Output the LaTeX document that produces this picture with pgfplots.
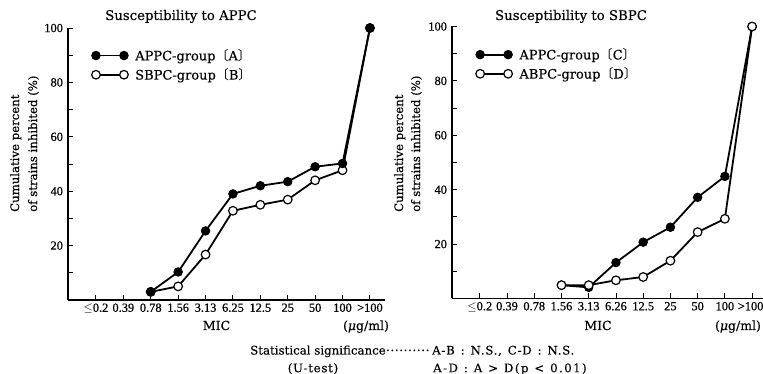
\documentclass[border=0pt]{standalone}
\usepackage{pgfplots}
\pgfplotsset{compat=1.18}
\usepackage{fontspec}
\setmainfont{DejaVu Serif}[FakeBold=0.3]
\newfontfamily\tickfont{Liberation Serif}[FakeBold=0.6]
\newfontfamily\cjk{Noto Sans CJK JP}
\newcommand{\br}[1]{{\cjk 〔}#1{\cjk 〕}}
\pgfplotsset{
  mic/.style={
    scale only axis, height=272pt, xmin=-1.02, ymin=0, ymax=100,
    axis lines=left, axis line style={-, line width=1.4pt},
    xtick={0,...,10},
    ytick={20,40,60,80,100}, minor ytick={10,30,50,70,90},
    tick align=inside, major tick length=5pt, minor tick length=5pt,
    tick style={black, line width=0.9pt},
    minor tick style={black, line width=0.9pt},
    tick label style={font=\tickfont\fontsize{12.4}{14}\selectfont},
    /pgf/number format/assume math mode=true,
    yticklabel style={xshift=-1.5pt},
    clip=false,
    legend style={draw=none, fill=none, inner sep=0pt, row sep=2.5pt,
      font=\fontsize{13}{15}\selectfont, cells={anchor=west},
      /tikz/every odd column/.append style={column sep=5pt}},
    legend cell align=left,
    legend image code/.code={\draw[##1, mark repeat=1, mark phase=1] plot coordinates {(0pt,0pt) (28pt,0pt)};},
  },
  filled/.style={black, line width=1.8pt, mark=*, mark size=4.3pt,
    mark options={solid, fill=black, draw=black, line width=0.8pt}},
  open/.style={black, line width=1.8pt, mark=*, mark size=4.3pt,
    mark options={solid, fill=white, draw=black, line width=1.2pt}},
}
\begin{document}
\begin{tikzpicture}
\path[use as bounding box] (0pt,0pt) rectangle (763pt,374pt);

% ---------- left panel ----------
\begin{axis}[mic, at={(68pt,74pt)}, anchor=south west, width=317pt, xmax=10.55,
  xticklabels={$\leq$0.2,0.39,0.78,1.56,3.13,6.25,12.5,25,50,100,{>100}},
  reverse legend,
  legend style={at={(0.074,0.93)}, anchor=north west}]
\addplot[open] coordinates {(2,3) (3,5) (4,16.7) (5,32.8) (6,35) (7,36.9) (8,44) (9,47.7) (10,100)};
\addlegendentry{SBPC-group\br{B}}
\addplot[filled] coordinates {(2,3) (3,10.3) (4,25.4) (5,39) (6,42) (7,43.5) (8,49) (9,50.2) (10,100)};
\addlegendentry{APPC-group\br{A}}
\end{axis}

% ---------- right panel ----------
\begin{axis}[mic, at={(452pt,75.5pt)}, anchor=south west, width=311pt, xmax=10.4,
  xticklabels={$\leq$0.2,0.39,0.78,1.56,3.13,6.26,12.5,25,50,100,{>100\kern3pt}},
  legend style={at={(0.076,0.928)}, anchor=north west}]
\addplot[filled] coordinates {(3,4.9) (4,4.1) (5,13.2) (6,20.7) (7,26.2) (8,37.2) (9,44.9) (10,100)};
\addlegendentry{APPC-group\br{C}}
\addplot[open] coordinates {(3,4.9) (4,4.9) (5,6.7) (6,7.9) (7,13.9) (8,24.4) (9,29.3) (10,100)};
\addlegendentry{ABPC-group\br{D}}
\end{axis}

% titles
\node[anchor=base, font=\fontsize{13.3}{15}\selectfont] at (181pt,354pt) {Susceptibility to APPC};
\node[anchor=base, font=\fontsize{13.3}{15}\selectfont] at (571pt,354pt) {Susceptibility to SBPC};

% y labels
\begin{scope}[font=\fontsize{11.7}{14}\selectfont]
\node[rotate=90, anchor=base west, inner sep=0pt] at (19pt,162pt) {Cumulative percent};
\node[rotate=90, anchor=base west, inner sep=0pt] at (37pt,162pt) {of strains inhibited (\%)};
\node[rotate=90, anchor=base west, inner sep=0pt] at (403pt,162pt) {Cumulative percent};
\node[rotate=90, anchor=base west, inner sep=0pt] at (420pt,162pt) {of strains inhibited (\%)};
\end{scope}

% x labels
\begin{scope}[font=\fontsize{12.5}{14}\selectfont]
\node[anchor=base] at (216.5pt,44pt) {MIC};
\node[anchor=base] at (366pt,44pt) {(\textit{μ}g/ml)};
\node[anchor=base] at (598pt,44pt) {MIC};
\node[anchor=base] at (738pt,44pt) {(\textit{μ}g/ml)};
\end{scope}

% statistical note
\begin{scope}[font=\fontsize{11.8}{14}\selectfont, inner sep=0pt]
\node[anchor=base west] at (250pt,19.5pt) {Statistical significance\hbox to 44pt{\leaders\hbox to 4.4pt{\hss·\hss}\hfill}};
\node[anchor=base west] at (432pt,19.5pt) {\addfontfeature{LetterSpace=6}A-B\enspace:\enspace N.S.,\enspace C-D\enspace:\enspace N.S.};
\node[anchor=base] at (313pt,1.8pt) {\addfontfeature{LetterSpace=6}(U-test)};
\node[anchor=base west] at (433pt,1.8pt) {\addfontfeature{LetterSpace=12}A-D\enspace:\enspace A\enspace>\enspace D(p\enspace<\enspace0.01)};
\end{scope}
\end{tikzpicture}
\end{document}
